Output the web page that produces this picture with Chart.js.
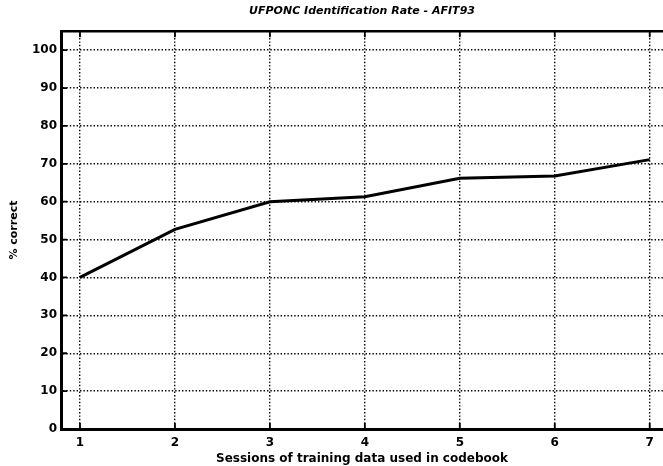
<!DOCTYPE html>
<html>
<head>
<meta charset="utf-8">
<script src="https://cdn.jsdelivr.net/npm/chart.js@4.4.1/dist/chart.umd.min.js"></script>
<style>
  html, body { margin: 0; padding: 0; background: #fff; }
  #wrap { width: 663px; height: 466px; position: relative; }
</style>
</head>
<body>
<div id="wrap"><canvas id="rateChart" width="663" height="466"></canvas></div>
<script>
/* UFPONC identification rate vs. training sessions (AFIT93) */
const sessions = [1, 2, 3, 4, 5, 6, 7];
const pctCorrect = [40, 52.7, 60, 61.3, 66.2, 66.8, 71.1];
const xTicks = [1, 2, 3, 4, 5, 6, 7];
const yTicks = [0, 10, 20, 30, 40, 50, 60, 70, 80, 90, 100];

const FONT = '"DejaVu Sans", Verdana, sans-serif';

// inward tick marks + top frame line, like an old MATLAB axes box
const frameTicks = {
  id: 'frameTicks',
  afterDatasetsDraw(chart){
    const {ctx, chartArea: a, scales: {x, y}} = chart;
    ctx.save();
    ctx.strokeStyle = '#000';
    ctx.lineWidth = 2.5;
    ctx.beginPath();
    ctx.moveTo(a.left, a.top); ctx.lineTo(a.right + 2, a.top);
    ctx.stroke();
    ctx.lineWidth = 1.8;
    ctx.beginPath();
    xTicks.forEach(v => {
      const px = x.getPixelForValue(v);
      ctx.moveTo(px, a.bottom); ctx.lineTo(px, a.bottom - 6);
      ctx.moveTo(px, a.top); ctx.lineTo(px, a.top + 6);
    });
    yTicks.forEach(v => {
      const py = y.getPixelForValue(v);
      ctx.moveTo(a.left, py); ctx.lineTo(a.left + 6, py);
    });
    ctx.stroke();
    ctx.restore();
  }
};

new Chart(document.getElementById('rateChart'), {
  type: 'line',
  data: {
    datasets: [{
      data: sessions.map((s, i) => ({x: s, y: pctCorrect[i]})),
      borderColor: '#000',
      borderWidth: 3,
      pointRadius: 0,
      tension: 0,
      fill: false
    }]
  },
  options: {
    responsive: false,
    animation: false,
    devicePixelRatio: 1,
    layout: { padding: { top: 0, right: 0, bottom: 0, left: 0 } },
    plugins: {
      legend: { display: false },
      tooltip: { enabled: false },
      title: {
        display: true,
        fullSize: false,
        text: 'UFPONC Identification Rate - AFIT93',
        color: '#000',
        font: { family: FONT, size: 11, weight: 'bold', style: 'italic' },
        padding: { top: 5, bottom: 13 }
      }
    },
    scales: {
      x: {
        type: 'linear',
        min: 0.8,
        max: 7.14,
        afterBuildTicks: s => { s.ticks = xTicks.map(v => ({value: v})); },
        afterFit: s => { s.height = 37; },
        grid: { color: '#000', lineWidth: 1.4, drawTicks: false },
        border: { display: true, color: '#000', width: 3, dash: [1.4, 2] },
        ticks: { color: '#000', padding: 7, autoSkip: false, font: { family: FONT, size: 12, weight: 'bold' }, maxRotation: 0 },
        title: {
          display: true,
          text: 'Sessions of training data used in codebook',
          color: '#000',
          font: { family: FONT, size: 12, weight: 'bold' },
          padding: { top: -2, bottom: 0 }
        }
      },
      y: {
        min: 0,
        max: 105,
        afterBuildTicks: s => { s.ticks = yTicks.map(v => ({value: v})); },
        afterFit: s => { s.width = 61; },
        grid: { color: '#000', lineWidth: 1.4, drawTicks: false },
        border: { display: true, color: '#000', width: 3, dash: [1.4, 2] },
        ticks: { color: '#000', padding: 4, autoSkip: false, font: { family: FONT, size: 12, weight: 'bold' } },
        title: {
          display: true,
          text: '% correct',
          color: '#000',
          font: { family: FONT, size: 11, weight: 'bold' },
          padding: { top: 8, bottom: 0 }
        }
      }
    }
  },
  plugins: [frameTicks]
});
</script>
</body>
</html>
